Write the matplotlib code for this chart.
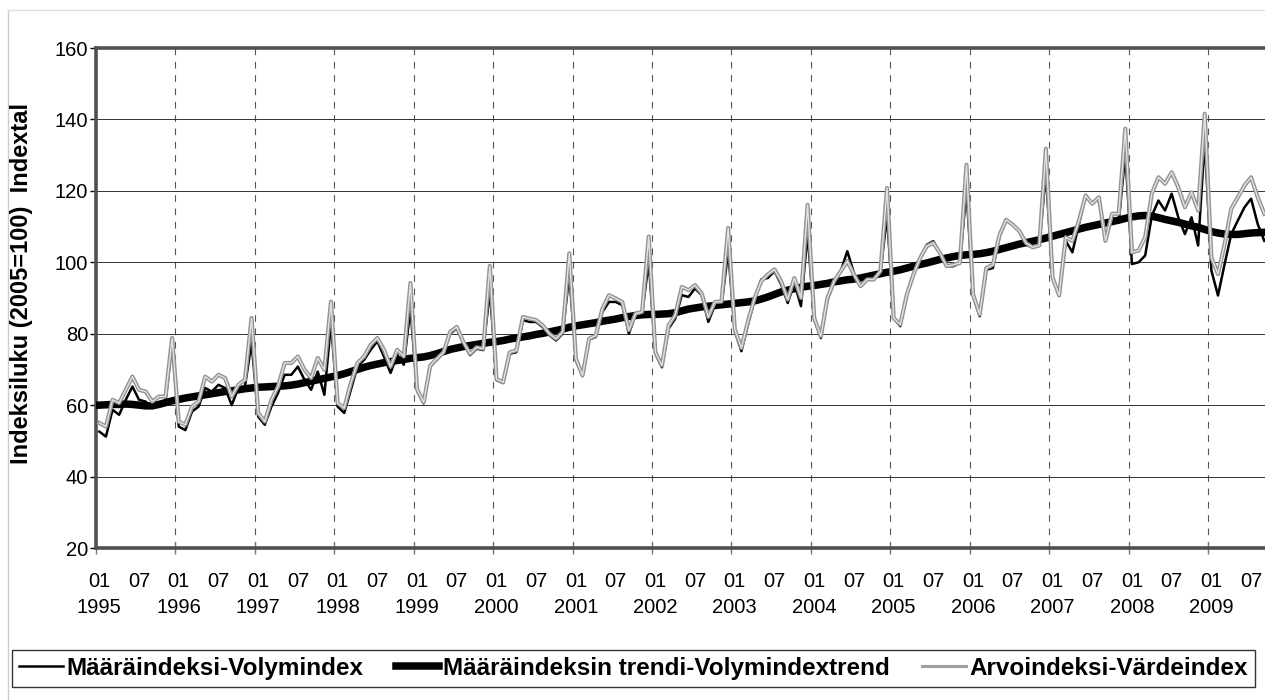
import numpy as np
import matplotlib
matplotlib.use('Agg')
import matplotlib.pyplot as plt
from matplotlib.lines import Line2D

years = list(range(1995, 2010))

# Määräindeksi-Volymindex (monthly, 1995-01 .. 2009-09)
volume = [
    52.6, 51.2, 58.7, 57.3, 61.5, 65.2, 61.5, 61.0, 59.2, 60.6, 61.0, 77.4,
    54.0, 53.0, 58.2, 59.6, 64.8, 63.8, 65.7, 64.8, 60.0, 64.8, 65.2, 77.5,
    56.8, 54.5, 59.6, 63.4, 68.5, 68.5, 70.8, 67.1, 64.3, 69.4, 62.9, 83.0,
    59.6, 57.8, 64.3, 70.8, 72.7, 75.5, 77.9, 73.6, 69.0, 74.1, 71.3, 87.0,
    64.0, 60.5, 70.8, 72.7, 74.6, 80.0, 81.5, 77.3, 74.0, 75.8, 75.4, 92.0,
    67.0, 66.2, 74.4, 74.8, 83.8, 83.3, 83.3, 81.8, 79.6, 78.1, 80.0, 96.5,
    72.5, 68.3, 78.4, 79.1, 86.1, 88.9, 88.9, 88.0, 80.0, 85.2, 85.6, 100.0,
    74.4, 70.6, 81.4, 84.2, 90.8, 90.3, 92.7, 90.8, 83.3, 88.0, 88.0, 103.0,
    80.7, 75.1, 82.6, 89.6, 95.2, 95.6, 97.5, 93.8, 88.6, 94.2, 87.7, 108.0,
    84.0, 78.8, 89.6, 94.2, 97.5, 103.1, 97.0, 93.3, 95.2, 95.2, 97.0, 113.0,
    84.4, 82.1, 91.0, 97.0, 101.2, 104.9, 105.9, 102.6, 98.9, 98.9, 99.8, 120.0,
    90.5, 84.9, 97.9, 98.4, 107.2, 111.9, 110.5, 108.7, 104.9, 104.2, 104.7, 125.0,
    95.5, 91.1, 106.0, 102.8, 110.7, 118.7, 116.4, 118.2, 106.0, 112.6, 111.2, 130.4,
    99.5, 100.0, 101.9, 113.0, 117.3, 114.5, 119.2, 112.6, 107.9, 112.6, 104.7, 134.1,
    97.7, 90.7, 99.5, 107.9, 111.7, 115.4, 117.8, 110.7, 106.0,
]

# Määräindeksin trendi-Volymindextrend
trend = [
    60.0, 60.1, 60.2, 60.2, 60.3, 60.2, 60.0, 59.8, 59.8, 60.2, 60.7, 61.2,
    61.6, 62.0, 62.3, 62.6, 62.9, 63.2, 63.5, 63.8, 64.0, 64.3, 64.6, 64.8,
    65.0, 65.1, 65.2, 65.3, 65.4, 65.6, 65.9, 66.3, 66.7, 67.1, 67.5, 67.9,
    68.3, 68.8, 69.4, 70.0, 70.6, 71.1, 71.5, 71.9, 72.2, 72.5, 72.8, 73.1,
    73.3, 73.5, 73.9, 74.4, 75.0, 75.6, 76.0, 76.4, 76.7, 77.0, 77.3, 77.6,
    77.8, 78.1, 78.5, 78.8, 79.1, 79.4, 79.8, 80.1, 80.5, 80.9, 81.3, 81.8,
    82.2, 82.5, 82.8, 83.1, 83.5, 83.8, 84.1, 84.5, 84.8, 85.1, 85.3, 85.4,
    85.4, 85.5, 85.6, 85.9, 86.4, 86.9, 87.2, 87.5, 87.7, 87.9, 88.1, 88.3,
    88.5, 88.7, 88.9, 89.2, 89.7, 90.3, 91.0, 91.7, 92.2, 92.6, 93.0, 93.3,
    93.5, 93.8, 94.1, 94.5, 94.8, 95.1, 95.3, 95.6, 96.0, 96.4, 96.8, 97.2,
    97.5, 97.9, 98.4, 98.9, 99.4, 99.8, 100.3, 100.8, 101.2, 101.6, 101.9, 102.1,
    102.2, 102.4, 102.7, 103.1, 103.6, 104.1, 104.6, 105.1, 105.5, 105.9, 106.3, 106.8,
    107.3, 107.8, 108.3, 108.8, 109.3, 109.8, 110.2, 110.6, 111.0, 111.4, 111.8, 112.3,
    112.7, 113.0, 113.1, 112.9, 112.5, 112.0, 111.6, 111.2, 110.7, 110.2, 109.8, 109.2,
    108.6, 108.2, 107.9, 107.8, 107.8, 108.0, 108.2, 108.3, 108.4,
]

# Arvoindeksi-Värdeindex
value = [
    55.0, 54.0, 61.5, 60.6, 64.3, 68.0, 64.3, 63.8, 61.0, 62.4, 62.4, 78.8,
    55.4, 54.5, 59.6, 61.0, 68.0, 66.6, 68.5, 67.6, 62.4, 65.7, 67.1, 84.4,
    57.8, 55.4, 61.5, 65.2, 71.8, 71.8, 73.6, 69.9, 67.6, 73.2, 69.9, 89.0,
    60.6, 59.2, 66.2, 71.8, 73.6, 76.9, 78.8, 75.5, 70.8, 75.5, 73.6, 94.2,
    64.5, 60.8, 71.1, 73.0, 74.8, 80.5, 81.9, 77.7, 74.4, 76.2, 75.8, 99.0,
    67.3, 66.4, 74.8, 75.3, 84.7, 84.2, 83.8, 82.3, 80.0, 78.6, 80.5, 102.5,
    73.0, 68.3, 78.6, 79.5, 87.0, 90.8, 89.9, 88.9, 81.0, 85.6, 86.1, 107.2,
    74.8, 71.1, 82.3, 85.2, 93.1, 92.2, 93.6, 91.3, 84.7, 88.9, 89.0, 109.6,
    81.2, 76.0, 83.5, 90.0, 94.7, 96.6, 98.0, 94.7, 89.6, 95.6, 90.0, 116.1,
    84.4, 79.3, 90.0, 94.7, 97.5, 100.3, 96.6, 93.3, 95.2, 95.2, 97.5, 120.8,
    84.4, 82.6, 91.0, 96.6, 101.2, 104.5, 105.4, 102.6, 98.9, 99.3, 99.8, 127.3,
    91.0, 85.4, 98.4, 99.3, 107.7, 111.9, 110.5, 108.7, 105.4, 104.2, 104.7, 131.8,
    95.8, 90.7, 107.0, 106.0, 111.7, 118.7, 116.4, 118.2, 106.0, 113.6, 113.6, 137.4,
    102.8, 103.3, 107.0, 119.2, 123.8, 122.0, 125.2, 121.0, 115.4, 119.6, 114.5, 141.6,
    101.4, 96.7, 105.1, 115.0, 118.2, 121.5, 123.8, 118.2, 113.6,
]

labels = ['Määräindeksi-Volymindex',
          'Määräindeksin trendi-Volymindextrend',
          'Arvoindeksi-Värdeindex']

plt.rcParams['font.family'] = ['Liberation Sans', 'DejaVu Sans']

W, H = 1265, 700
fig = plt.figure(figsize=(W / 100, H / 100), dpi=100)
ax = fig.add_axes([96 / W, 1 - 548 / H, 1 - 96 / W, 500 / H])

n = len(volume)
x = np.arange(n) + 0.5

ax.plot(x, trend, color='black', lw=5.4, zorder=3, solid_joinstyle='round')
ax.plot(x, volume, color='black', lw=1.8, zorder=4)
ax.plot(x, value, color='#939393', lw=3.0, zorder=5)
ax.plot(x, value, color='#e2e2e2', lw=1.0, zorder=6)

ax.set_xlim(0, 176.6)
ax.set_ylim(20, 160)
ax.set_yticks(range(20, 161, 20))
ax.tick_params(axis='y', labelsize=14.5, length=4, direction='out', pad=1.5, width=1)
ax.yaxis.grid(True, color='#333333', lw=0.7)

major = np.arange(0, n, 12)
ax.set_xticks(major)
ax.set_xticklabels([])
ax.tick_params(axis='x', which='major', length=8, direction='inout', width=1, color='#777777')
ax.xaxis.grid(True, which='major', color='#555555', lw=0.8, ls=(0, (6, 6)))

minor_pos = []
minor_lab = []
for i, yr in enumerate(years):
    minor_pos.append(12 * i + 0.5)
    minor_lab.append('01\n' + str(yr))
    minor_pos.append(12 * i + 6.5)
    minor_lab.append('07')
ax.set_xticks(minor_pos, minor=True)
ax.set_xticklabels(minor_lab, minor=True)
ax.tick_params(axis='x', which='minor', length=0, labelsize=14.5, pad=17)
for t in ax.get_xticklabels(minor=True):
    t.set_linespacing(1.5)

for s in ['top', 'left', 'bottom']:
    ax.spines[s].set_color('#505050')
    ax.spines[s].set_linewidth(2.6)
ax.spines['right'].set_visible(False)
ax.set_axisbelow(True)

fig.text(22 / W, 1 - 283 / H, 'Indeksiluku (2005=100)  Indextal', rotation=90,
         ha='center', va='center', fontsize=17, fontweight='bold')

handles = [Line2D([], [], color='black', lw=1.8),
           Line2D([], [], color='black', lw=5.4),
           Line2D([], [], color='#a0a0a0', lw=2.2)]
leg = fig.legend(handles, labels, loc='center',
                 bbox_to_anchor=(12 / W, 1 - 690 / H, 1243 / W, 43 / H),
                 mode='expand', ncol=3, frameon=True, fancybox=False,
                 edgecolor='black', borderaxespad=0, borderpad=0.3,
                 handlelength=1.8, handletextpad=0.15, columnspacing=0.5,
                 prop={'weight': 'bold', 'size': 17.5})
leg.get_frame().set_linewidth(1.0)

# faint outer frame of the chart area
fig.add_artist(Line2D([8 / W, 8 / W], [0, 1 - 10 / H], transform=fig.transFigure,
                      color='#cccccc', lw=1))
fig.add_artist(Line2D([8 / W, 1], [1 - 10 / H, 1 - 10 / H], transform=fig.transFigure,
                      color='#dddddd', lw=1))

fig.savefig('out.png', dpi=100)
